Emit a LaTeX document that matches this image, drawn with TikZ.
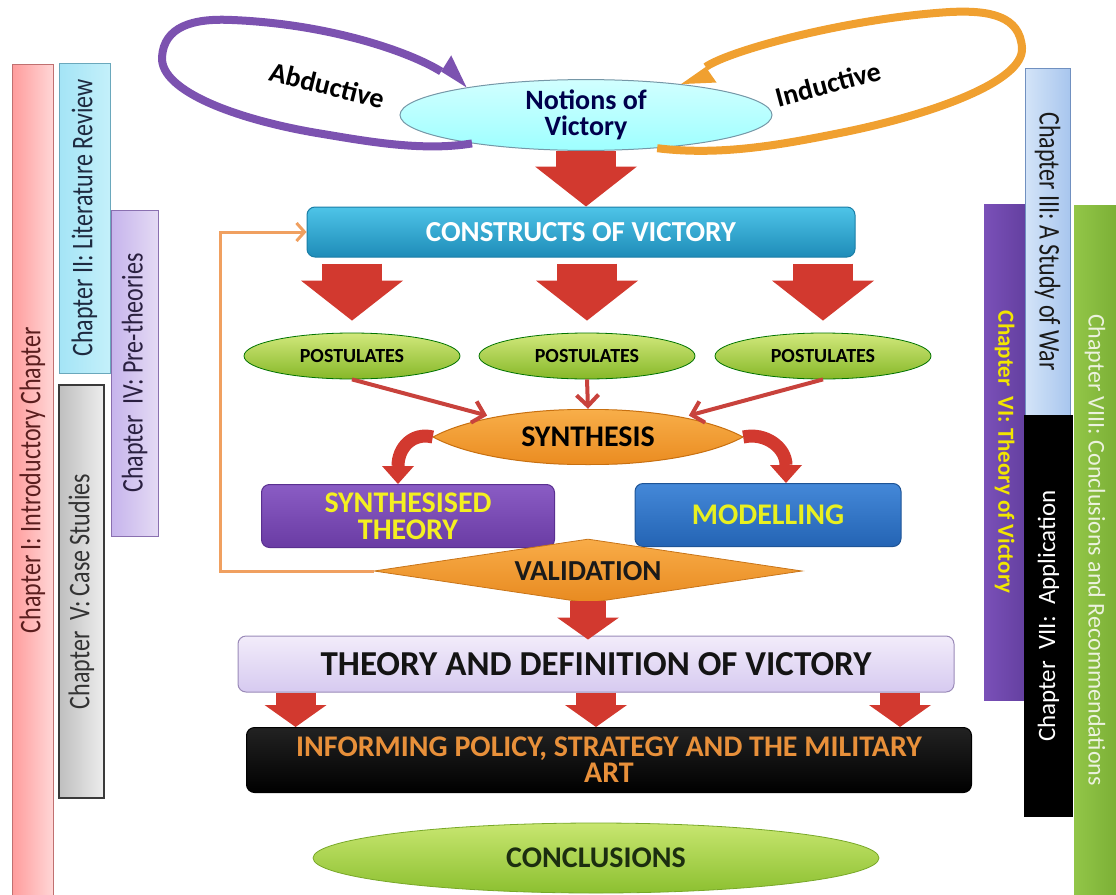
\documentclass[tikz,border=0pt]{standalone}
\usepackage{fontspec}
\usepackage{graphicx}
\setmainfont{Carlito}
\usetikzlibrary{arrows.meta,shapes.geometric,calc}

% palette
\definecolor{blockred}{HTML}{D2392F}
\definecolor{thinred}{HTML}{C8423C}
\definecolor{loopviolet}{HTML}{7C52B0}
\definecolor{looporange}{HTML}{F0A030}
\definecolor{fborange}{HTML}{F0A060}

\newcommand{\fsz}[2]{\fontsize{#1}{#2}\selectfont}
\newcommand{\narrowtext}[1]{\scalebox{0.8}[1]{#1}}

\tikzset{
  chapbar/.style={draw, line width=1pt, inner sep=0pt, font=\mdseries\fsz{24}{26}},
  slimbar/.style={chapbar, font=\mdseries\fsz{30}{32}},
  notionsell/.style={ellipse, draw=cyan!45!black!70, line width=1pt,
    top color=cyan!18, bottom color=cyan!38, minimum width=372pt, minimum height=64pt,
    inner sep=0pt, align=center, font=\bfseries\fsz{28}{26}, text=blue!30!black},
  looplabel/.style={font=\bfseries\fsz{28}{30}, text=black},
  glossbox/.style={rounded corners=8pt, line width=1pt, inner sep=0pt, align=center},
  postell/.style={ellipse, draw=green!45!black, line width=0.8pt,
    top color={rgb,255:red,210;green,232;blue,124}, bottom color={rgb,255:red,134;green,184;blue,40},
    minimum width=216pt, minimum height=46pt, inner sep=0pt, font=\bfseries\fsz{20}{22}},
  % lens-shaped node: pointed at both ends
  lensnode/.style={ellipse, minimum width=310pt, minimum height=56pt, inner sep=0pt,
    font=\bfseries\fsz{30}{32},
    path picture={
      \path[draw={rgb,255:red,200;green,112;blue,16}, line width=1pt,
            top color={rgb,255:red,250;green,180;blue,80}, bottom color={rgb,255:red,232;green,134;blue,26}]
        (path picture bounding box.west)
        .. controls ($(path picture bounding box.west)!0.22!(path picture bounding box.east)+(0,-37)$)
        and ($(path picture bounding box.west)!0.78!(path picture bounding box.east)+(0,-37)$)
        .. (path picture bounding box.east)
        .. controls ($(path picture bounding box.west)!0.78!(path picture bounding box.east)+(0,37)$)
        and ($(path picture bounding box.west)!0.22!(path picture bounding box.east)+(0,37)$)
        .. (path picture bounding box.west) -- cycle;
    }},
  bigarrow/.style={draw=blockred, line width=60pt, -{Triangle[width=102pt,length=40pt,line width=0pt]}},
  medarrow/.style={draw=blockred, line width=36pt, -{Triangle[width=62pt,length=22pt,line width=0pt]}},
  curvearrow/.style={draw=blockred, line width=13pt, -{Triangle[width=32pt,length=18pt,line width=0pt]}},
  thinarrow/.style={draw=thinred, line width=4pt, -{Straight Barb[length=11pt,width=22pt]}},
  feedback/.style={draw=fborange, line width=3pt, -{Straight Barb[length=8pt,width=18pt]}},
  loopv/.style={draw=loopviolet, line width=8pt, -{Triangle[harpoon,width=38pt,length=30pt,line width=0pt]}},
  loopo/.style={draw=looporange, line width=8pt, -{Triangle[harpoon,width=38pt,length=30pt,line width=0pt]}},
}

\begin{document}
\begin{tikzpicture}[x=1pt,y=-1pt]
\useasboundingbox (0,0) rectangle (1116,894);

% ---- chapter bars, left ----
\node[slimbar, rotate=90, minimum width=832pt, minimum height=41pt,
      draw={rgb,255:red,192;green,112;blue,112},
      left color={rgb,255:red,255;green,156;blue,156}, right color={rgb,255:red,255;green,214;blue,214},
      text={rgb,255:red,90;green,30;blue,30}]
      (ch1) at (32.5,480) {\narrowtext{Chapter I: Introductory Chapter}};
\node[slimbar, rotate=90, minimum width=310pt, minimum height=51pt,
      draw={rgb,255:red,106;green,168;blue,188},
      left color={rgb,255:red,164;green,228;blue,246}, right color={rgb,255:red,196;green,240;blue,250},
      text={rgb,255:red,30;green,42;blue,64}]
      (ch2) at (84.5,218) {\narrowtext{Chapter II: Literature Review}};
\node[slimbar, rotate=90, minimum width=326pt, minimum height=47pt,
      draw={rgb,255:red,138;green,112;blue,176},
      left color={rgb,255:red,198;green,180;blue,236}, right color={rgb,255:red,228;green,218;blue,244},
      text={rgb,255:red,42;green,32;blue,64}]
      (ch4) at (134.5,373) {\narrowtext{Chapter\ \ IV: Pre-theories}};
\node[slimbar, rotate=90, minimum width=413pt, minimum height=45pt,
      draw={rgb,255:red,58;green,58;blue,58}, line width=1.6pt,
      left color={rgb,255:red,191;green,191;blue,191}, right color={rgb,255:red,237;green,237;blue,237},
      text={rgb,255:red,51;green,51;blue,51}]
      (ch5) at (81.5,591.5) {\narrowtext{Chapter\ \ V: Case Studies}};

% ---- chapter bars, right ----
\node[chapbar, rotate=-90, minimum width=496pt, minimum height=41pt, draw=none,
      left color={rgb,255:red,122;green,80;blue,184}, right color={rgb,255:red,100;green,64;blue,160},
      text={rgb,255:red,242;green,230;blue,0}, font=\bfseries\fsz{23}{25}]
      (ch6) at (1004.5,452) {Chapter\ \ VI: Theory of Victory};
\node[slimbar, rotate=-90, minimum width=347pt, minimum height=45pt,
      draw={rgb,255:red,112;green,144;blue,192},
      left color={rgb,255:red,212;green,228;blue,248}, right color={rgb,255:red,168;green,198;blue,238},
      text={rgb,255:red,26;green,26;blue,26}]
      (ch3) at (1047.5,241.5) {\narrowtext{Chapter III: A Study of War}};
\node[chapbar, rotate=90, minimum width=402pt, minimum height=49pt, draw=none,
      fill=black, text=white, font=\mdseries\fsz{25}{27}]
      (ch7) at (1048.5,616) {Chapter\ \ VII:\ \ Application};
\node[chapbar, rotate=-90, minimum width=690pt, minimum height=42pt, draw=none,
      left color={rgb,255:red,146;green,198;blue,72}, right color={rgb,255:red,124;green,176;blue,54},
      text={rgb,255:red,236;green,242;blue,222}]
      (ch8) at (1095,550) {Chapter VIII: Conclusions and Recommendations};

% ---- reasoning loops around the notions of victory ----
\node[notionsell] (notions) at (586,115) {Notions of\\Victory};
\draw[loopv] (notions.194) .. controls (420,152) and (360,140) .. (317,133)
  .. controls (240,120) and (160,92) .. (162,57)
  .. controls (164,27) and (192,18) .. (232,20)
  .. controls (330,24) and (410,52) .. (notions.167);
\draw[loopo] (notions.-25) .. controls (720,156) and (780,145) .. (840,133)
  .. controls (930,115) and (1024,82) .. (1022,48)
  .. controls (1020,16) and (990,10) .. (950,12)
  .. controls (850,18) and (730,50) .. (notions.18);
\node[looplabel, rotate=-14] (abd) at (327,85) {Abductive};
\node[looplabel, rotate=15] (ind) at (828,84) {Inductive};

% ---- main flow ----
\node[glossbox, minimum width=548pt, minimum height=50pt, draw={rgb,255:red,26;green,126;blue,166},
      top color={rgb,255:red,78;green,196;blue,232}, bottom color={rgb,255:red,30;green,140;blue,184},
      text=white, font=\bfseries\fsz{29}{31}]
      (constructs) at (581,232) {CONSTRUCTS OF VICTORY};

\node[postell] (p1) at (352,356) {POSTULATES};
\node[postell] (p2) at (587,356) {POSTULATES};
\node[postell] (p3) at (823,356) {POSTULATES};

\node[lensnode] (synth) at (588,437) {SYNTHESIS};

\node[glossbox, minimum width=293pt, minimum height=63pt, draw={rgb,255:red,90;green,48;blue,144},
      top color={rgb,255:red,138;green,92;blue,196}, bottom color={rgb,255:red,106;green,60;blue,164},
      text={rgb,255:red,244;green,240;blue,32}, font=\bfseries\fsz{30}{27}]
      (sth) at (408,516) {SYNTHESISED\\THEORY};
\node[glossbox, minimum width=266pt, minimum height=63pt, draw={rgb,255:red,30;green,84;blue,150},
      top color={rgb,255:red,68;green,136;blue,216}, bottom color={rgb,255:red,36;green,100;blue,180},
      text={rgb,255:red,232;green,240;blue,32}, font=\bfseries\fsz{30}{32}]
      (model) at (768,515) {MODELLING};

\node[diamond, aspect=6.5, minimum width=428pt, minimum height=64pt, inner sep=0pt,
      draw={rgb,255:red,200;green,116;blue,24}, line width=0.8pt,
      top color={rgb,255:red,248;green,172;blue,72}, bottom color={rgb,255:red,232;green,138;blue,32},
      font=\bfseries\fsz{29}{31}, text={rgb,255:red,26;green,26;blue,26}]
      (valid) at (588,571) {VALIDATION};

\node[glossbox, minimum width=716pt, minimum height=56pt, draw={rgb,255:red,154;green,138;blue,184},
      top color={rgb,255:red,242;green,236;blue,250}, bottom color={rgb,255:red,214;green,202;blue,240},
      text={rgb,255:red,20;green,20;blue,20}, font=\bfseries\fsz{35}{37}]
      (theory) at (596,664) {THEORY AND DEFINITION OF VICTORY};
\node[glossbox, minimum width=725pt, minimum height=65pt, draw=black,
      top color={rgb,255:red,34;green,34;blue,34}, bottom color=black,
      text={rgb,255:red,232;green,144;blue,58}, font=\bfseries\fsz{30}{26}]
      (inform) at (609,760) {INFORMING POLICY, STRATEGY AND THE MILITARY\\ART};
\node[ellipse, minimum width=566pt, minimum height=70pt, inner sep=0pt,
      draw={rgb,255:red,120;green,168;blue,40}, line width=0.8pt,
      top color={rgb,255:red,200;green,230;blue,112}, bottom color={rgb,255:red,140;green,192;blue,48},
      text={rgb,255:red,28;green,46;blue,16}, font=\bfseries\fsz{30}{32}]
      (concl) at (596,858) {CONCLUSIONS};

% ---- connectors ----
\draw[bigarrow] (notions.south) -- (notions.south |- constructs.north);
\foreach \p in {p1,p2,p3}
  \draw[bigarrow, shorten <=6pt, shorten >=12pt] (constructs.south -| \p) -- (\p.north);

\draw[thinarrow] (p1.south) -- (synth.168);
\draw[thinarrow] (p2.south) -- (synth.north);
\draw[thinarrow] (p3.south) -- (synth.12);

\draw[curvearrow] (synth.west) .. controls (412,432) and (398,448) .. ($(sth.north)+(-10,0)$);
\draw[curvearrow] (synth.east) .. controls (766,432) and (786,448) .. ($(model.north)+(18,0)$);

\draw[feedback] (valid.west) -- ++(-153,0) |- (constructs.west);

\draw[medarrow, shorten <=-2pt, shorten >=-4pt] (valid.south) -- (valid.south |- theory.north);

\coordinate (t1) at ($(theory.south west)!0.081!(theory.south east)$);
\coordinate (t2) at ($(theory.south west)!0.5!(theory.south east)$);
\coordinate (t3) at ($(theory.south west)!0.924!(theory.south east)$);
\foreach \t in {t1,t2,t3}
  \draw[medarrow, line width=40pt] (\t) -- (\t |- inform.north);
\end{tikzpicture}
\end{document}
